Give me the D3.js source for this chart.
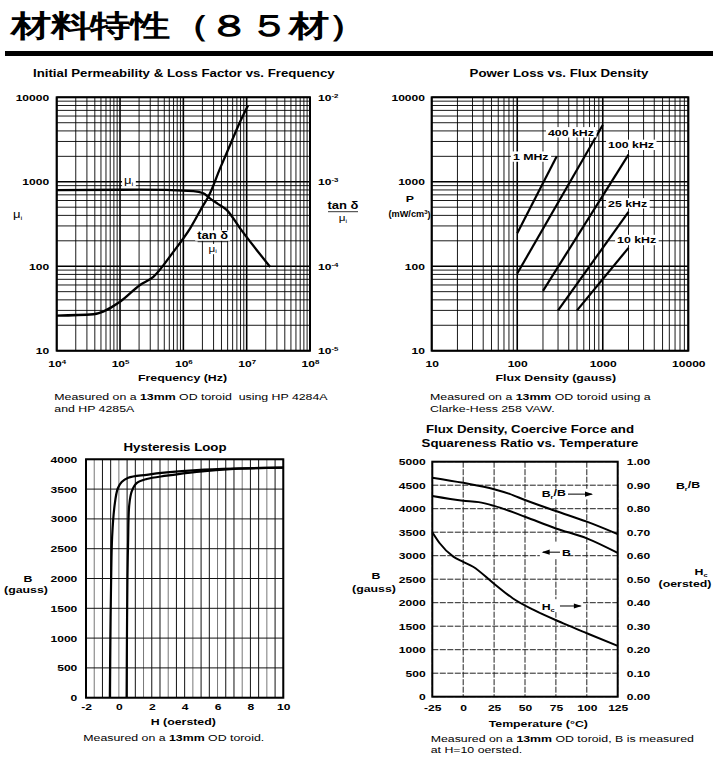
<!DOCTYPE html>
<html><head><meta charset="utf-8">
<script src="https://cdnjs.cloudflare.com/ajax/libs/d3/7.8.5/d3.min.js"></script>
<style>
body{margin:0;background:#fff}
svg{display:block}
text{font-family:"Liberation Sans",Arial,Helvetica,sans-serif;fill:#000;white-space:pre}
</style>
</head><body>
<svg id="c" width="718" height="762"></svg>
<script>
// ---------------- DATA ----------------
// Chart 1: Initial permeability & loss factor vs frequency
const freqTicks = [1e4, 1e5, 1e6, 1e7, 1e8];
const permTicks = [10, 100, 1000, 10000];
const lossTicks = [1e-5, 1e-4, 1e-3, 1e-2];
const muFreq = [1e4, 2e5, 1.44e6, 2.07e6, 2.6e6, 3.5e6, 4.86e6, 7.87e6, 2.35e7];
const muVal  = [795, 805, 775, 730, 640, 548, 462, 281, 98];
const lossFreq = [1e4, 3.8e4, 1e5, 2.07e5, 3.36e5, 6.95e5, 1.28e6, 2.07e6, 2.48e6, 3.8e6, 5.47e6, 7.87e6, 1.05e7];
const lossVal  = [2.6e-5, 2.7e-5, 3.8e-5, 6.0e-5, 7.5e-5, 1.48e-4, 2.81e-4, 5.3e-4, 6.64e-4, 1.44e-3, 2.72e-3, 5.14e-3, 8.0e-3];

// Chart 2: Power loss vs flux density
const fluxTicks = [10, 100, 1000, 10000];
const powerTicks = [10, 100, 1000, 10000];
const plSeries = ["1 MHz", "400 kHz", "100 kHz", "25 kHz", "10 kHz"];
const plFlux  = [[100, 290], [100, 1000], [200, 2000], [300, 2000], [500, 2000]];
const plPower = [[245, 2000], [82, 4700], [51, 2100], [30, 440], [30, 165]];
const plLabelFlux  = [89, 229, 1153, 1153, 1470];
const plLabelPower = [1807, 3510, 2490, 506, 186];

// Chart 3: Hysteresis loop
const hTicks = [-2, 0, 2, 4, 6, 8, 10];
const bTicks3 = [0, 500, 1000, 1500, 2000, 2500, 3000, 3500, 4000];
const hLeft  = [-0.55, -0.52, -0.47, -0.41, -0.26, -0.07, 0.17, 0.57, 1.69, 2.91, 4.73, 7, 10];
const bLeft  = [0, 1000, 2000, 2700, 3230, 3510, 3620, 3690, 3740, 3780, 3820, 3845, 3860];
const hRight = [0.47, 0.49, 0.52, 0.56, 0.63, 0.78, 1.08, 1.69, 2.91, 4.73, 7, 10];
const bRight = [0, 1000, 2000, 2600, 3230, 3460, 3600, 3670, 3725, 3790, 3840, 3860];

// Chart 4: Flux density, coercive force, squareness ratio vs temperature
const tTicks = [-25, 0, 25, 50, 75, 100, 125];
const bTicks4 = [0, 500, 1000, 1500, 2000, 2500, 3000, 3500, 4000, 4500, 5000];
const rTicks4 = [0, 0.1, 0.2, 0.3, 0.4, 0.5, 0.6, 0.7, 0.8, 0.9, 1.0];
const brT = [-25, 0, 25, 37.5, 50, 75, 100, 125];
const brV = [0.932, 0.91, 0.883, 0.863, 0.837, 0.79, 0.745, 0.692];
const bT  = [-25, 0, 12.5, 25, 50, 75, 100, 125];
const bV  = [4270, 4170, 4140, 4060, 3830, 3580, 3370, 3060];
const hcT = [-25, -19, -8, 0, 8, 24, 40, 57, 81, 100, 125];
const hcV = [0.70, 0.653, 0.596, 0.574, 0.553, 0.485, 0.419, 0.369, 0.312, 0.27, 0.216];

// ---------------- HELPERS ----------------
const SX = 1.3;            // horizontal text stretch seen in reference
const TICK_FS = 9.3, TITLE_FS = 10.2, AX_FS = 9.5, CAP_FS = 9.5;
const svg = d3.select("#c");
svg.append("rect").attr("width", 718).attr("height", 762).attr("fill", "#fff");

function stretchEl(el, sx = SX) {
  const x = +(el.getAttribute("x") || 0);
  el.setAttribute("transform", `translate(${x},0) scale(${sx},1) translate(${-x},0)`);
}
function isPow10(v) { const l = Math.log10(v); return Math.abs(l - Math.round(l)) < 1e-9; }
function logVals(lo, hi) { const a = []; for (let d = lo; d < hi; d++) for (let k = 1; k < 10; k++) a.push(k * 10 ** d); a.push(10 ** hi); return a; }

function addText(g, x, y, txt, o = {}) {
  const t = g.append("text").attr("x", x).attr("y", y)
    .attr("text-anchor", o.anchor || "start")
    .attr("font-size", o.size || AX_FS)
    .attr("font-weight", o.bold ? "bold" : "normal");
  if (txt != null) t.text(txt);
  if (o.sx) stretchEl(t.node(), o.sx);
  return t;
}
function labelBg(g, x, y, build, o = {}) {
  const grp = g.append("g");
  const rect = grp.append("rect").attr("fill", "#fff");
  const t = addText(grp, x, y, null, o);
  build(t);
  stretchEl(t.node());
  const b = t.node().getBBox();
  const bx = x + (b.x - x) * SX;
  rect.attr("x", bx - 2).attr("y", b.y).attr("width", b.width * SX + 4).attr("height", b.height);
  return t;
}
function supTicks(axisG, expFn) {
  axisG.selectAll(".tick text").each(function (d) {
    const t = d3.select(this); t.text(null);
    t.append("tspan").text("10");
    t.append("tspan").attr("dy", "-0.5em").attr("font-size", "0.65em").text(expFn(d));
  });
}
function styleAxis(g) {
  g.select(".domain").remove();
  g.selectAll(".tick line").remove();
  g.selectAll(".tick text").attr("font-size", TICK_FS).attr("font-weight", "bold")
    .attr("font-family", '"Liberation Sans",Arial,sans-serif').attr("fill", "#000");
}
function frame(g, P) {
  g.append("rect").attr("x", P.l).attr("y", P.t).attr("width", P.r - P.l).attr("height", P.b - P.t)
    .attr("fill", "none").attr("stroke", "#000").attr("stroke-width", 2);
}
function arrowHead(g, x, y, dir) {
  const L = 8, W = 2.6;
  g.append("path").attr("d", `M${x},${y} L${x - dir * L},${y - W} L${x - dir * L},${y + W} Z`).attr("fill", "#000");
}

// ---------------- TITLE ----------------
const title = svg.append("text").attr("x", 11).attr("y", 36)
  .attr("font-family", '"Noto Sans CJK JP","Noto Sans CJK SC",sans-serif')
  .attr("font-size", 30).attr("font-weight", 700).text("材料特性（８５材）");
stretchEl(title.node(), 1.34);
svg.append("rect").attr("x", 5).attr("y", 51).attr("width", 708).attr("height", 5).attr("fill", "#000");

// ================= CHART 1 =================
{
  const P = { l: 56.7, r: 310, t: 97.3, b: 350.7 };
  const g = svg.append("g");
  const x = d3.scaleLog().domain([1e4, 1e8]).range([P.l, P.r]);
  const yL = d3.scaleLog().domain([10, 1e4]).range([P.b, P.t]);
  const yR = d3.scaleLog().domain([1e-5, 1e-2]).range([P.b, P.t]);
  const grid = g.append("g");
  grid.selectAll(null).data(logVals(4, 8)).join("line")
    .attr("x1", d => x(d)).attr("x2", d => x(d)).attr("y1", P.t).attr("y2", P.b)
    .attr("stroke", "#000").attr("stroke-width", d => isPow10(d) ? 1.6 : 0.9);
  grid.selectAll(null).data(logVals(1, 4)).join("line")
    .attr("y1", d => yL(d)).attr("y2", d => yL(d)).attr("x1", P.l).attr("x2", P.r)
    .attr("stroke", "#000").attr("stroke-width", d => isPow10(d) ? 1.6 : 0.9);
  frame(g, P);

  const la = g.append("g").attr("transform", `translate(${P.l},0)`)
    .call(d3.axisLeft(yL).tickValues(permTicks).tickFormat(d3.format("d")).tickSize(0).tickPadding(7.5));
  styleAxis(la);
  const ra = g.append("g").attr("transform", `translate(${P.r},0)`)
    .call(d3.axisRight(yR).tickValues(lossTicks).tickSize(0).tickPadding(8));
  styleAxis(ra); supTicks(ra, d => String(Math.round(Math.log10(d))));
  const ba = g.append("g").attr("transform", `translate(0,${P.b})`)
    .call(d3.axisBottom(x).tickValues(freqTicks).tickSize(0).tickPadding(9.6));
  styleAxis(ba); supTicks(ba, d => String(Math.round(Math.log10(d))));

  const muLine = d3.line().x(d => x(d[0])).y(d => yL(d[1])).curve(d3.curveMonotoneX);
  const lossLine = d3.line().x(d => x(d[0])).y(d => yR(d[1])).curve(d3.curveMonotoneX);
  g.append("path").attr("d", muLine(muFreq.map((f, i) => [f, muVal[i]])))
    .attr("fill", "none").attr("stroke", "#000").attr("stroke-width", 2.3);
  g.append("path").attr("d", lossLine(lossFreq.map((f, i) => [f, lossVal[i]])))
    .attr("fill", "none").attr("stroke", "#000").attr("stroke-width", 2.3);

  // inner labels
  labelBg(g, x(1.16e5), yL(940), t => {
    t.append("tspan").text("μ");
    t.append("tspan").attr("dy", "0.3em").attr("font-size", "0.6em").text("i");
  }, { size: 10 });
  const tx = x(2.9e6), ty = yL(210);
  labelBg(g, tx, ty, t => t.text("tan δ"), { anchor: "middle", bold: true, size: 10 });
  g.append("line").attr("x1", tx - 15).attr("x2", tx + 15).attr("y1", ty + 2.7).attr("y2", ty + 2.7)
    .attr("stroke", "#000").attr("stroke-width", 0.8);
  labelBg(g, tx, ty + 12.7, t => {
    t.append("tspan").text("μ");
    t.append("tspan").attr("dy", "0.3em").attr("font-size", "0.6em").text("i");
  }, { anchor: "middle", size: 9 });

  addText(g, (P.l + P.r) / 2 + 0.5, 77, "Initial Permeability & Loss Factor vs. Frequency", { anchor: "middle", bold: true, size: TITLE_FS });
  addText(g, 182.5, 380.7, "Frequency (Hz)", { anchor: "middle", bold: true });
  const lt = addText(g, 13, 218, null, { size: 10 });
  lt.append("tspan").text("μ"); lt.append("tspan").attr("dy", "0.3em").attr("font-size", "0.6em").text("i");
  addText(g, 343, 209, "tan δ", { anchor: "middle", bold: true, size: 10 });
  g.append("line").attr("x1", 328).attr("x2", 358).attr("y1", 211.7).attr("y2", 211.7).attr("stroke", "#000").attr("stroke-width", 0.8);
  const rt = addText(g, 343, 221, null, { anchor: "middle", size: 9 });
  rt.append("tspan").text("μ"); rt.append("tspan").attr("dy", "0.3em").attr("font-size", "0.6em").text("i");
  const c1 = addText(g, 54.3, 400, null, { size: CAP_FS });
  c1.append("tspan").text("Measured on a ");
  c1.append("tspan").attr("font-weight", "bold").text("13mm");
  c1.append("tspan").text(" OD toroid  using HP 4284A");
  addText(g, 54.3, 411.7, "and HP 4285A", { size: CAP_FS });
}

// ================= CHART 2 =================
{
  const P = { l: 431.7, r: 688.3, t: 97.3, b: 350.7 };
  const g = svg.append("g");
  const x = d3.scaleLog().domain([10, 1e4]).range([P.l, P.r]);
  const y = d3.scaleLog().domain([10, 1e4]).range([P.b, P.t]);
  const grid = g.append("g");
  grid.selectAll(null).data(logVals(1, 4)).join("line")
    .attr("x1", d => x(d)).attr("x2", d => x(d)).attr("y1", P.t).attr("y2", P.b)
    .attr("stroke", "#000").attr("stroke-width", d => isPow10(d) ? 1.6 : 0.9);
  grid.selectAll(null).data(logVals(1, 4)).join("line")
    .attr("y1", d => y(d)).attr("y2", d => y(d)).attr("x1", P.l).attr("x2", P.r)
    .attr("stroke", "#000").attr("stroke-width", d => isPow10(d) ? 1.6 : 0.9);
  frame(g, P);
  const la = g.append("g").attr("transform", `translate(${P.l},0)`)
    .call(d3.axisLeft(y).tickValues(powerTicks).tickFormat(d3.format("d")).tickSize(0).tickPadding(6.7));
  styleAxis(la);
  const ba = g.append("g").attr("transform", `translate(0,${P.b})`)
    .call(d3.axisBottom(x).tickValues(fluxTicks).tickFormat(d3.format("d")).tickSize(0).tickPadding(9.4));
  styleAxis(ba);

  const line = d3.line().x(d => x(d[0])).y(d => y(d[1]));
  plSeries.forEach((s, i) => {
    g.append("path").attr("d", line(plFlux[i].map((b, j) => [b, plPower[i][j]])))
      .attr("fill", "none").attr("stroke", "#000").attr("stroke-width", 2.2);
  });
  plSeries.forEach((s, i) => {
    labelBg(g, x(plLabelFlux[i]), y(plLabelPower[i]), t => t.text(s), { bold: true, size: 9.5 });
  });

  addText(g, 559, 77, "Power Loss vs. Flux Density", { anchor: "middle", bold: true, size: TITLE_FS });
  addText(g, 555.8, 380.7, "Flux Density (gauss)", { anchor: "middle", bold: true });
  addText(g, 410, 201.7, "P", { anchor: "middle", bold: true });
  const pu = addText(g, 409.5, 216.7, null, { anchor: "middle", bold: true, size: 9, sx: 1.02 });
  pu.append("tspan").text("(mW/cm");
  pu.append("tspan").attr("dy", "-0.4em").attr("font-size", "0.65em").text("3");
  pu.append("tspan").attr("dy", "0.4em").text(")");
  const c2 = addText(g, 430, 400, null, { size: CAP_FS });
  c2.append("tspan").text("Measured on a ");
  c2.append("tspan").attr("font-weight", "bold").text("13mm");
  c2.append("tspan").text(" OD toroid using a");
  addText(g, 430, 411.7, "Clarke-Hess 258 VAW.", { size: CAP_FS });
}

// ================= CHART 3 =================
{
  const P = { l: 86, r: 283.3, t: 459.3, b: 697.7 };
  const g = svg.append("g");
  const x = d3.scaleLinear().domain([-2, 10]).range([P.l, P.r]);
  const y = d3.scaleLinear().domain([0, 4000]).range([P.b, P.t]);
  const grid = g.append("g");
  grid.selectAll(null).data(d3.range(-2, 10.01, 0.5)).join("line")
    .attr("x1", d => x(d)).attr("x2", d => x(d)).attr("y1", P.t).attr("y2", P.b)
    .attr("stroke", (d, i) => i % 3 === 1 ? "#777" : "#111").attr("stroke-width", 1);
  grid.selectAll(null).data(bTicks3).join("line")
    .attr("y1", d => y(d)).attr("y2", d => y(d)).attr("x1", P.l).attr("x2", P.r)
    .attr("stroke", "#111").attr("stroke-width", 1);
  frame(g, P);
  const la = g.append("g").attr("transform", `translate(${P.l},0)`)
    .call(d3.axisLeft(y).tickValues(bTicks3).tickFormat(d => String(d)).tickSize(0).tickPadding(8.7));
  styleAxis(la);
  const ba = g.append("g").attr("transform", `translate(0,${P.b})`)
    .call(d3.axisBottom(x).tickValues(hTicks).tickFormat(d => String(d)).tickSize(0).tickPadding(5.8));
  styleAxis(ba);
  const line = d3.line().x(d => x(d[0])).y(d => y(d[1])).curve(d3.curveCatmullRom.alpha(0.5));
  g.append("path").attr("d", line(hLeft.map((h, i) => [h, bLeft[i]])))
    .attr("fill", "none").attr("stroke", "#000").attr("stroke-width", 2.2);
  g.append("path").attr("d", line(hRight.map((h, i) => [h, bRight[i]])))
    .attr("fill", "none").attr("stroke", "#000").attr("stroke-width", 2.2);

  addText(g, 175, 450.7, "Hysteresis Loop", { anchor: "middle", bold: true, size: TITLE_FS });
  addText(g, 183.3, 725, "H (oersted)", { anchor: "middle", bold: true });
  addText(g, 28, 581.7, "B", { anchor: "middle", bold: true });
  addText(g, 26, 593.3, "(gauss)", { anchor: "middle", bold: true });
  const c3 = addText(g, 83.3, 740.7, null, { size: CAP_FS });
  c3.append("tspan").text("Measured on a ");
  c3.append("tspan").attr("font-weight", "bold").text("13mm");
  c3.append("tspan").text(" OD toroid.");
}

// ================= CHART 4 =================
{
  const P = { l: 432.3, r: 617.7, t: 461.7, b: 696.7 };
  const g = svg.append("g");
  const x = d3.scaleLinear().domain([-25, 125]).range([P.l, P.r]);
  const yL = d3.scaleLinear().domain([0, 5000]).range([P.b, P.t]);
  const yR = d3.scaleLinear().domain([0, 1]).range([P.b, P.t]);
  const grid = g.append("g");
  grid.selectAll(null).data(tTicks).join("line")
    .attr("x1", d => x(d)).attr("x2", d => x(d)).attr("y1", P.t).attr("y2", P.b)
    .attr("stroke", "#222").attr("stroke-width", 1).attr("stroke-dasharray", "6,1.5");
  grid.selectAll(null).data(bTicks4).join("line")
    .attr("y1", d => yL(d)).attr("y2", d => yL(d)).attr("x1", P.l).attr("x2", P.r)
    .attr("stroke", "#222").attr("stroke-width", 1).attr("stroke-dasharray", "6,1.5");
  frame(g, P);
  const la = g.append("g").attr("transform", `translate(${P.l},0)`)
    .call(d3.axisLeft(yL).tickValues(bTicks4).tickFormat(d => String(d)).tickSize(0).tickPadding(6.6));
  styleAxis(la);
  const ra = g.append("g").attr("transform", `translate(${P.r},0)`)
    .call(d3.axisRight(yR).tickValues(rTicks4).tickFormat(d3.format(".2f")).tickSize(0).tickPadding(9));
  styleAxis(ra);
  const ba = g.append("g").attr("transform", `translate(0,${P.b})`)
    .call(d3.axisBottom(x).tickValues(tTicks).tickFormat(d => String(d)).tickSize(0).tickPadding(7.4));
  styleAxis(ba);

  const lineR = d3.line().x(d => x(d[0])).y(d => yR(d[1])).curve(d3.curveMonotoneX);
  const lineL = d3.line().x(d => x(d[0])).y(d => yL(d[1])).curve(d3.curveMonotoneX);
  g.append("path").attr("d", lineR(brT.map((t, i) => [t, brV[i]])))
    .attr("fill", "none").attr("stroke", "#000").attr("stroke-width", 2);
  g.append("path").attr("d", lineL(bT.map((t, i) => [t, bV[i]])))
    .attr("fill", "none").attr("stroke", "#000").attr("stroke-width", 2);
  g.append("path").attr("d", lineR(hcT.map((t, i) => [t, hcV[i]])))
    .attr("fill", "none").attr("stroke", "#000").attr("stroke-width", 2);

  // inner annotations
  g.append("rect").attr("x", x(62)).attr("y", yR(0.885)).attr("width", x(107) - x(62)).attr("height", yR(0.84) - yR(0.885)).attr("fill", "#fff");
  const brl = addText(g, x(63.5), yR(0.849), null, { bold: true, size: 9.5 });
  brl.append("tspan").text("B"); brl.append("tspan").attr("dy", "0.3em").attr("font-size", "0.6em").text("r");
  brl.append("tspan").attr("dy", "-0.3em").text("/B");
  g.append("line").attr("x1", x(84.8)).attr("x2", x(104)).attr("y1", yR(0.862)).attr("y2", yR(0.862)).attr("stroke", "#000").attr("stroke-width", 1);
  arrowHead(g, x(105), yR(0.862), 1);

  g.append("rect").attr("x", x(62)).attr("y", yL(3300)).attr("width", x(84) - x(62)).attr("height", yL(2930) - yL(3300)).attr("fill", "#fff");
  g.append("line").attr("x1", x(64.5)).attr("x2", x(78.3)).attr("y1", yL(3075)).attr("y2", yL(3075)).attr("stroke", "#000").attr("stroke-width", 1);
  arrowHead(g, x(63.5), yL(3075), -1);
  addText(g, x(80), yL(2994), "B", { bold: true, size: 9.5 });

  g.append("rect").attr("x", x(62)).attr("y", yR(0.415)).attr("width", x(97) - x(62)).attr("height", yR(0.36) - yR(0.415)).attr("fill", "#fff");
  const hcl = addText(g, x(63.5), yR(0.369), null, { bold: true, size: 9.5 });
  hcl.append("tspan").text("H"); hcl.append("tspan").attr("dy", "0.3em").attr("font-size", "0.6em").text("c");
  g.append("line").attr("x1", x(78.3)).attr("x2", x(95)).attr("y1", yR(0.386)).attr("y2", yR(0.386)).attr("stroke", "#000").attr("stroke-width", 1);
  arrowHead(g, x(96), yR(0.386), 1);

  addText(g, 530, 432.7, "Flux Density, Coercive Force and", { anchor: "middle", bold: true, size: TITLE_FS });
  addText(g, 530, 446.7, "Squareness Ratio vs. Temperature", { anchor: "middle", bold: true, size: TITLE_FS });
  addText(g, 538.3, 726.7, "Temperature (°C)", { anchor: "middle", bold: true });
  addText(g, 376, 579.3, "B", { anchor: "middle", bold: true });
  addText(g, 374, 592, "(gauss)", { anchor: "middle", bold: true });
  const rbl = addText(g, 688, 489.3, null, { anchor: "middle", bold: true });
  rbl.append("tspan").text("B"); rbl.append("tspan").attr("dy", "0.3em").attr("font-size", "0.6em").text("r");
  rbl.append("tspan").attr("dy", "-0.3em").text("/B");
  const rhl = addText(g, 701, 575, null, { anchor: "middle", bold: true });
  rhl.append("tspan").text("H"); rhl.append("tspan").attr("dy", "0.3em").attr("font-size", "0.6em").text("c");
  addText(g, 685, 586.7, "(oersted)", { anchor: "middle", bold: true });
  const c4 = addText(g, 430.7, 741.7, null, { size: CAP_FS });
  c4.append("tspan").text("Measured on a ");
  c4.append("tspan").attr("font-weight", "bold").text("13mm");
  c4.append("tspan").text(" OD toroid, B is measured");
  addText(g, 430.7, 753.3, "at H=10 oersted.", { size: CAP_FS });
}

// stretch all remaining text horizontally
svg.selectAll("text").each(function () { if (!this.hasAttribute("transform")) stretchEl(this); });
</script>
</body></html>
